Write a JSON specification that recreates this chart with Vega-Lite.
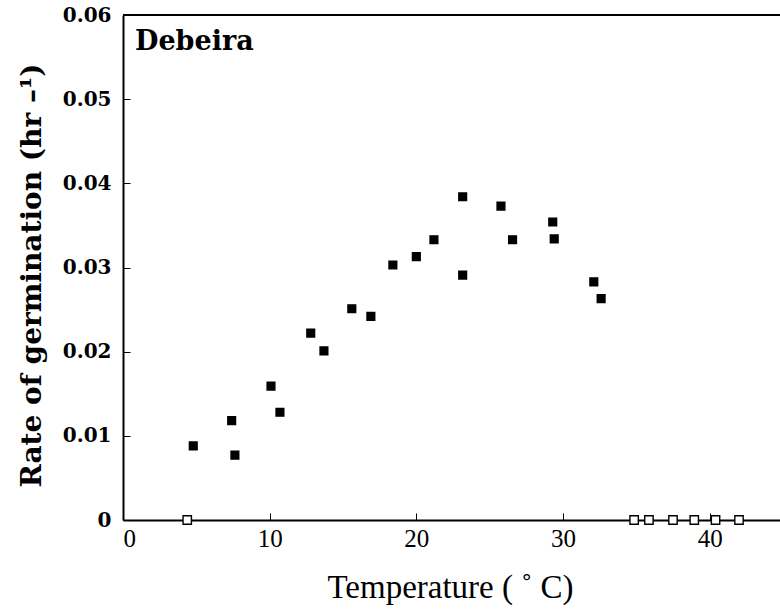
{
  "$schema": "https://vega.github.io/schema/vega-lite/v6.json",
  "width": 660,
  "height": 505,
  "autosize": {"type": "none"},
  "padding": {"left": 123, "top": 15, "right": 0, "bottom": 96},
  "background": "white",
  "config": {
    "view": {"stroke": null},
    "font": "Liberation Serif",
    "axis": {"labelFont": "Liberation Serif", "titleFont": "Liberation Serif"}
  },
  "datasets": {
    "pts": [
      {"temp": 4.79, "rate": 0.0088, "germinated": "yes"},
      {"temp": 7.41, "rate": 0.0118, "germinated": "yes"},
      {"temp": 7.63, "rate": 0.0077, "germinated": "yes"},
      {"temp": 10.09, "rate": 0.0159, "germinated": "yes"},
      {"temp": 10.7, "rate": 0.0128, "germinated": "yes"},
      {"temp": 12.8, "rate": 0.0222, "germinated": "yes"},
      {"temp": 13.7, "rate": 0.0201, "germinated": "yes"},
      {"temp": 15.6, "rate": 0.0251, "germinated": "yes"},
      {"temp": 16.9, "rate": 0.0242, "germinated": "yes"},
      {"temp": 18.4, "rate": 0.0303, "germinated": "yes"},
      {"temp": 20.0, "rate": 0.0313, "germinated": "yes"},
      {"temp": 21.2, "rate": 0.0333, "germinated": "yes"},
      {"temp": 23.16, "rate": 0.0384, "germinated": "yes"},
      {"temp": 23.16, "rate": 0.0291, "germinated": "yes"},
      {"temp": 25.77, "rate": 0.0373, "germinated": "yes"},
      {"temp": 26.56, "rate": 0.0333, "germinated": "yes"},
      {"temp": 29.3, "rate": 0.0354, "germinated": "yes"},
      {"temp": 29.4, "rate": 0.0334, "germinated": "yes"},
      {"temp": 32.1, "rate": 0.0283, "germinated": "yes"},
      {"temp": 32.6, "rate": 0.0263, "germinated": "yes"},
      {"temp": 4.38, "rate": 0, "germinated": "no"},
      {"temp": 34.85, "rate": 0, "germinated": "no"},
      {"temp": 35.86, "rate": 0, "germinated": "no"},
      {"temp": 37.5, "rate": 0, "germinated": "no"},
      {"temp": 38.95, "rate": 0, "germinated": "no"},
      {"temp": 40.4, "rate": 0, "germinated": "no"},
      {"temp": 42.0, "rate": 0, "germinated": "no"}
    ],
    "labels": [
      {"temp": 0.82, "rate": 0.0558, "label": "Debeira"}
    ],
    "frame": [
      {"rate": 0.06}
    ]
  },
  "layer": [
    {
      "data": {"name": "frame"},
      "mark": {"type": "rule", "color": "black", "strokeWidth": 2},
      "encoding": {
        "y": {"field": "rate", "type": "quantitative"}
      }
    },
    {
      "data": {"name": "pts"},
      "mark": {"type": "point", "shape": "square", "strokeWidth": 1.4, "opacity": 1},
      "encoding": {
        "x": {
          "field": "temp", "type": "quantitative",
          "scale": {"domain": [0, 45], "nice": false},
          "axis": {
            "values": [0, 10, 20, 30, 40],
            "title": "Temperature (  ˚   C)",
            "titleFontSize": 33,
            "titleFontWeight": "normal",
            "titleColor": "black",
            "titleX": 327,
            "titleY": 77,
            "titleBaseline": "alphabetic",
            "titleAnchor": "middle",
            "titleAlign": "center",
            "labelFontSize": 25,
            "labelColor": "black",
            "labelPadding": 13,
            "labelFontWeight": "normal",
            "domainColor": "black",
            "domainWidth": 2,
            "tickColor": "black",
            "tickSize": -7,
            "tickWidth": 1,
            "grid": false
          }
        },
        "y": {
          "field": "rate", "type": "quantitative",
          "scale": {"domain": [0, 0.06], "nice": false},
          "axis": {
            "values": [0, 0.01, 0.02, 0.03, 0.04, 0.05, 0.06],
            "labelExpr": "datum.value === 0 ? '0' : format(datum.value, '.2f')",
            "title": "Rate of germination (hr –¹)",
            "titleFont": "DejaVu Serif",
            "titleFontSize": 28,
            "titleFontWeight": "bold",
            "titleColor": "black",
            "titleAngle": -90,
            "titleX": -83,
            "titleY": 260,
            "titleBaseline": "alphabetic",
            "titleAlign": "center",
            "labelFont": "DejaVu Serif",
            "labelFontSize": 20,
            "labelFontWeight": "bold",
            "labelColor": "black",
            "labelPadding": 19,
            "domainColor": "black",
            "domainWidth": 2,
            "tickColor": "black",
            "tickSize": -7,
            "tickWidth": 1,
            "grid": false
          }
        },
        "fill": {
          "field": "germinated", "type": "nominal",
          "scale": {"domain": ["yes", "no"], "range": ["black", "white"]},
          "legend": null
        },
        "size": {
          "field": "germinated", "type": "nominal",
          "scale": {"domain": ["yes", "no"], "range": [60, 70]},
          "legend": null
        },
        "stroke": {"value": "black"}
      }
    },
    {
      "data": {"name": "labels"},
      "mark": {"type": "text", "align": "left", "baseline": "alphabetic", "fontSize": 27, "fontWeight": "bold", "font": "DejaVu Serif", "color": "black"},
      "encoding": {
        "x": {"field": "temp", "type": "quantitative"},
        "y": {"field": "rate", "type": "quantitative"},
        "text": {"field": "label"}
      }
    }
  ]
}
